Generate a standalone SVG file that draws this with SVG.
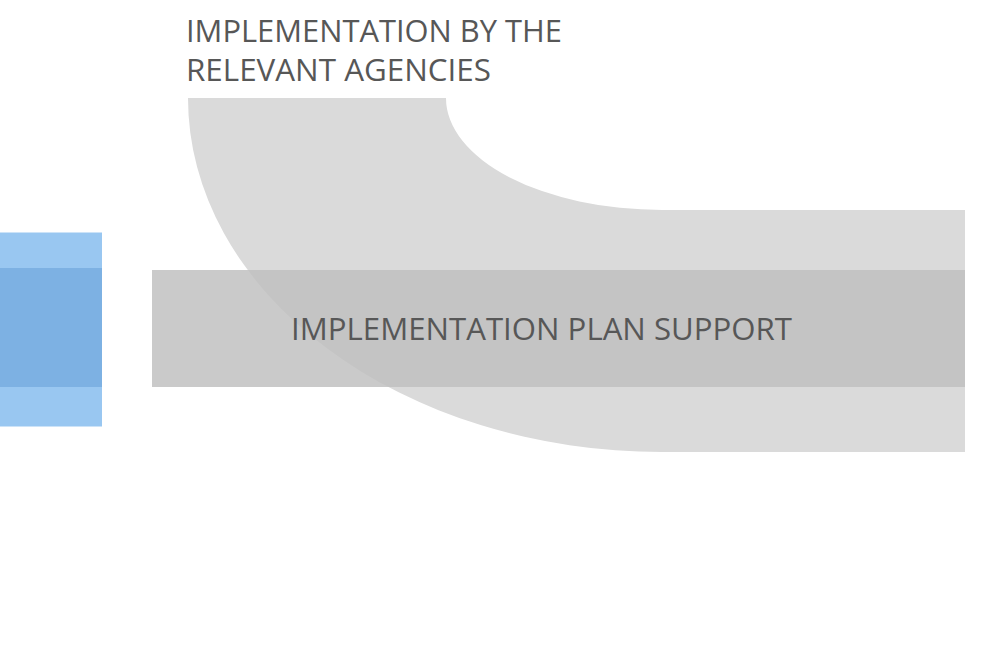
<svg xmlns="http://www.w3.org/2000/svg" width="992" height="655" viewBox="0 0 992 655">
<style>
.lbl{font-family:"Open Sans","Noto Sans","Liberation Sans",sans-serif;fill:#575757;font-size:31px;}
</style>
<rect x="0" y="0" width="992" height="655" fill="#ffffff"/>
<g id="flow-band">
<path d="M188,98 L446,98 A216,112 0 0 0 662,210 L965,210 L965,452 L662,452 A474,354 0 0 1 188,98 Z" fill="#dadada"/>
</g>
<g id="source-node">
<rect x="0" y="232.5" width="102" height="194" fill="#99c7f1"/>
<rect x="0" y="268" width="102" height="119" fill="#7db1e3"/>
</g>
<g id="plan-support">
<rect x="152" y="270" width="813" height="117" fill="#c0c0c0" fill-opacity="0.84"/>
<text class="lbl" x="291" y="340" textLength="501" lengthAdjust="spacingAndGlyphs">IMPLEMENTATION PLAN SUPPORT</text>
</g>
<g id="agencies-label">
<text class="lbl" x="186" y="41.5" textLength="376" lengthAdjust="spacingAndGlyphs">IMPLEMENTATION BY THE</text>
<text class="lbl" x="186" y="80.5" textLength="305" lengthAdjust="spacingAndGlyphs">RELEVANT AGENCIES</text>
</g>
<g id="connectors"></g>
</svg>
